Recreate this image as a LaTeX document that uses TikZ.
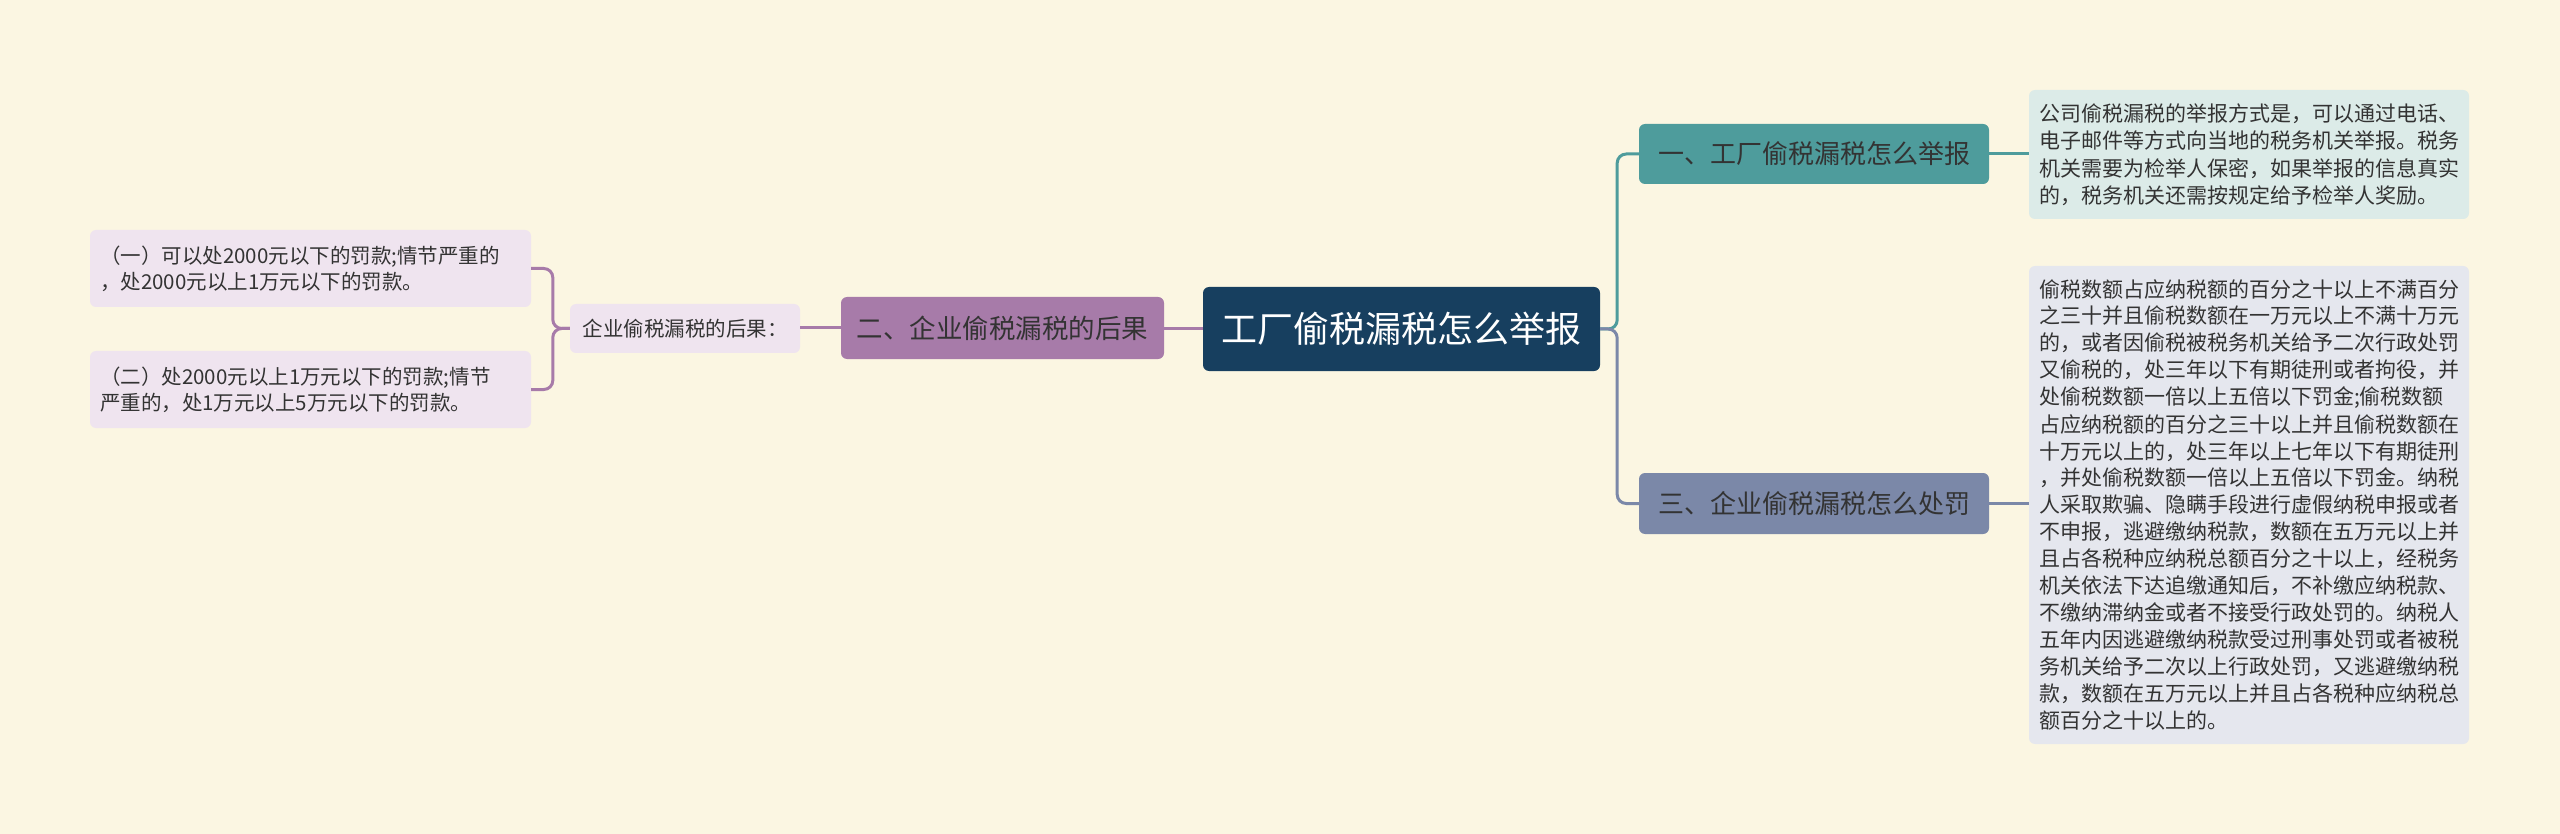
\documentclass[tikz,border=0pt]{standalone}
\usepackage{fontspec}
\setmainfont{Noto Sans CJK SC}
\definecolor{bgcol}{HTML}{FBF6E2}
\definecolor{rootcol}{HTML}{173F5F}
\definecolor{tealcol}{HTML}{4E9C9C}
\definecolor{slatecol}{HTML}{7B88A8}
\definecolor{mauvecol}{HTML}{A77BA9}
\definecolor{lilac}{HTML}{EFE4EF}
\definecolor{notea}{HTML}{DCEBE8}
\definecolor{noteb}{HTML}{E5E7EE}
\definecolor{txtcol}{HTML}{333333}
\begin{document}
\begin{tikzpicture}[x=1pt,y=-1pt,
  box/.style={rounded corners=6pt,inner sep=0pt,align=center,text=txtcol},
  lnk/.style={line width=3pt,rounded corners=9pt},
  note/.style={box,align=left,text width=420pt,inner xsep=10pt,font=\fontsize{21pt}{27pt}\selectfont}]
\fill[bgcol] (0,0) rectangle (2560,834);\useasboundingbox (0,0) rectangle (2560,834);
\node[box,fill=rootcol,text=white,minimum width=397pt,minimum height=84pt,font=\fontsize{36pt}{40pt}\selectfont] (root) at (1401.5,329) {工厂偷税漏税怎么举报};
\node[box,fill=tealcol,minimum width=350pt,minimum height=60pt,font=\fontsize{26pt}{30pt}\selectfont] (b1) at (1814,154) {一、工厂偷税漏税怎么举报};
\node[box,fill=slatecol,minimum width=350pt,minimum height=61pt,font=\fontsize{26pt}{30pt}\selectfont] (b3) at (1814,503.5) {三、企业偷税漏税怎么处罚};
\node[box,fill=mauvecol,minimum width=323pt,minimum height=62pt,font=\fontsize{26.5pt}{30pt}\selectfont] (b2) at (1002.5,328) {二、企业偷税漏税的后果};
\node[box,fill=lilac,minimum width=230pt,minimum height=49pt,font=\fontsize{20.5pt}{24pt}\selectfont] (sub) at (685,328.5) {企业偷税漏税的后果：};
\node[note,fill=lilac,minimum height=77pt,text width=421pt,font=\fontsize{20.5pt}{26pt}\selectfont] (l1) at (310.5,268.5) {（一）可以处2000元以下的罚款;情节严重的\\，处2000元以上1万元以下的罚款。};
\node[note,fill=lilac,minimum height=77pt,text width=421pt,font=\fontsize{20.5pt}{26pt}\selectfont] (l2) at (310.5,389.5) {（二）处2000元以上1万元以下的罚款;情节\\严重的，处1万元以上5万元以下的罚款。};
\node[note,fill=notea,minimum height=129pt,font=\fontsize{21pt}{27.5pt}\selectfont] (n1) at (2249,154.5) {公司偷税漏税的举报方式是，可以通过电话、\\电子邮件等方式向当地的税务机关举报。税务\\机关需要为检举人保密，如果举报的信息真实\\的，税务机关还需按规定给予检举人奖励。};
\node[note,fill=noteb,minimum height=478pt] (n3) at (2249,505) {偷税数额占应纳税额的百分之十以上不满百分\\之三十并且偷税数额在一万元以上不满十万元\\的，或者因偷税被税务机关给予二次行政处罚\\又偷税的，处三年以下有期徒刑或者拘役，并\\处偷税数额一倍以上五倍以下罚金;偷税数额\\占应纳税额的百分之三十以上并且偷税数额在\\十万元以上的，处三年以上七年以下有期徒刑\\，并处偷税数额一倍以上五倍以下罚金。纳税\\人采取欺骗、隐瞒手段进行虚假纳税申报或者\\不申报，逃避缴纳税款，数额在五万元以上并\\且占各税种应纳税总额百分之十以上，经税务\\机关依法下达追缴通知后，不补缴应纳税款、\\不缴纳滞纳金或者不接受行政处罚的。纳税人\\五年内因逃避缴纳税款受过刑事处罚或者被税\\务机关给予二次以上行政处罚，又逃避缴纳税\\款，数额在五万元以上并且占各税种应纳税总\\额百分之十以上的。};
% connectors
\draw[lnk,tealcol] (root.east) -- ++(17,0) |- (b1.west);
\draw[lnk,slatecol] (root.east) -- ++(17,0) |- (b3.west);
\draw[lnk,tealcol] (b1.east) -- (b1.east -| n1.west);
\draw[lnk,slatecol] (b3.east) -- (b3.east -| n3.west);
\draw[lnk,mauvecol] (root.west) -- (root.west -| b2.east);\draw[lnk,mauvecol] (b2.west) -- (b2.west -| sub.east);
\foreach \l in {l1,l2}{\draw[lnk,mauvecol] (sub.west) -- ++(-17,0) |- (\l.east);}
\end{tikzpicture}
\end{document}
